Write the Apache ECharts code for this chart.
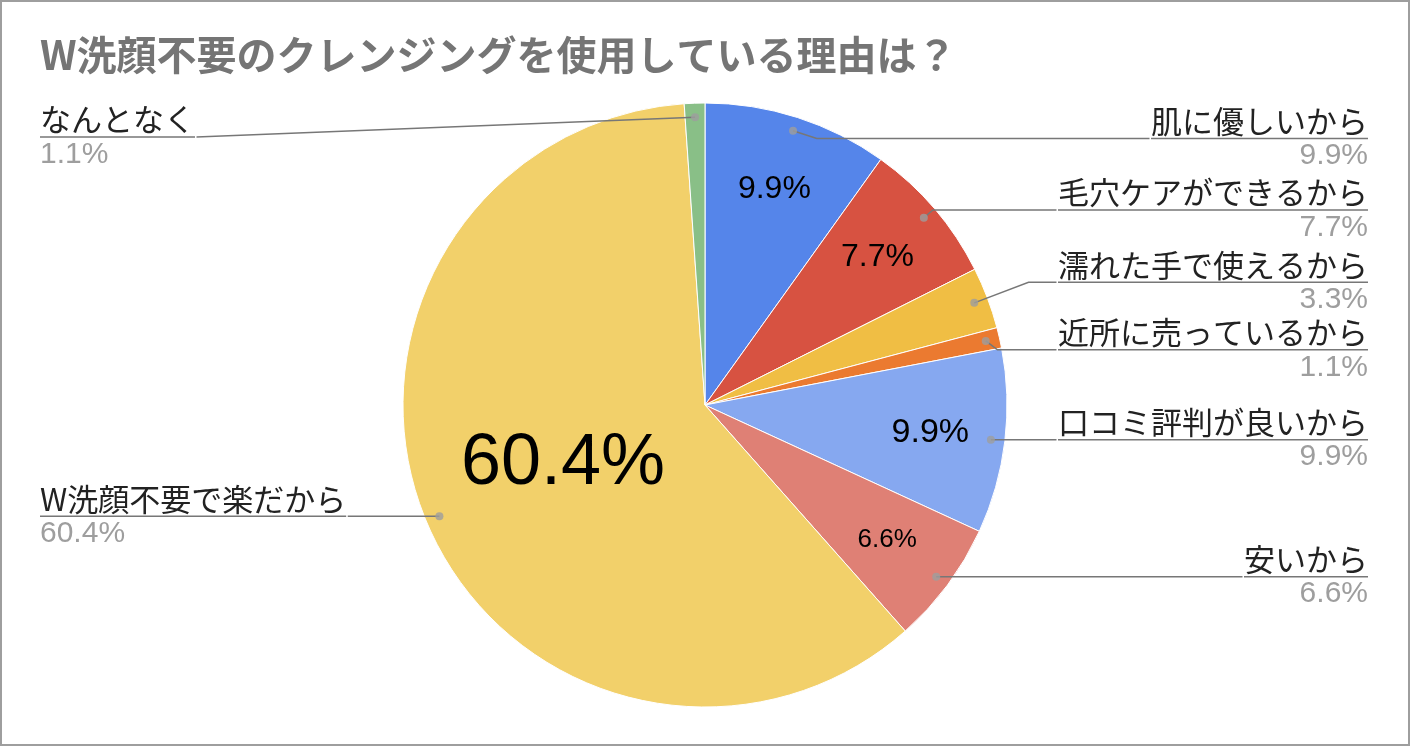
<!DOCTYPE html>
<html>
<head>
<meta charset="utf-8">
<script src="https://cdn.jsdelivr.net/npm/echarts@6/dist/echarts.min.js"></script>
<style>
  html, body { margin: 0; padding: 0; background: #fff; }
  #wrap { position: relative; width: 1410px; height: 746px; }
  #chart { width: 1410px; height: 746px; }
  #frame { position: absolute; left: 0; top: 0; width: 1410px; height: 746px; box-sizing: border-box; border: 2px solid #9e9e9e; pointer-events: none; }
</style>
</head>
<body>
<div id="wrap"><div id="chart"></div><div id="frame"></div></div>
<script>
// ---- data ----
const titleText = 'W洗顔不要のクレンジングを使用している理由は？';
const categories = ['肌に優しいから', '毛穴ケアができるから', '濡れた手で使えるから', '近所に売っているから', '口コミ評判が良いから', '安いから', 'W洗顔不要で楽だから', 'なんとなく'];
const counts = [9, 7, 3, 1, 9, 6, 55, 1];

// ---- styles ----
const sliceColors = ['#5585EA', '#D75241', '#F0BE44', '#EB7A30', '#86A8F0', '#DF8075', '#F2D06A', '#89BF87'];
const innerLabelSize = [32, 32, 0, 0, 34, 26, 72, 0];
const leaderLength = [-8, 12, 58, 12, 0, 0, 0, 12];
const CX = 705, CY = 405, R = 302, RDOT = 288, LABEL_TOP = 103;
const jp = '"Noto Sans CJK JP", sans-serif';
const lat = '"Liberation Sans", Arial, sans-serif';

const total = counts.reduce((a, b) => a + b, 0);
const pct = v => (v / total * 100).toFixed(1) + '%';

const pieData = categories.map((c, i) => ({ name: c, value: counts[i], itemStyle: { color: sliceColors[i] } }));

// mid angles for dots, in value units on the angle axis
let acc = 0;
const dotData = counts.map(v => { const m = acc + v / 2; acc += v; return [RDOT / R, m]; });

const option = {
  backgroundColor: '#fff',
  animation: false,
  title: {
    text: titleText, left: 35, top: 30,
    textStyle: { fontFamily: jp, fontSize: 40, fontWeight: 'bold', color: '#757575' }
  },
  polar: { center: [CX, CY], radius: R },
  angleAxis: { type: 'value', min: 0, max: total, startAngle: 90, clockwise: true, show: false },
  radiusAxis: { type: 'value', min: 0, max: 1, show: false },
  series: [
    {
      type: 'pie', center: [CX, CY], radius: R, startAngle: 90, clockwise: true,
      silent: true, z: 2,
      itemStyle: { borderColor: '#fff', borderWidth: 1 },
      data: pieData.map((d, i) => ({
        name: d.name, value: d.value, itemStyle: d.itemStyle,
        label: { show: i === 6, position: 'inside', fontSize: innerLabelSize[i], color: '#000', fontFamily: lat, formatter: p => pct(p.value) }
      })),
      labelLine: { show: false }
    },
    {
      type: 'pie', center: [CX, CY], radius: [146, R], startAngle: 90, clockwise: true,
      silent: true, z: 3,
      itemStyle: { color: 'rgba(0,0,0,0)' },
      data: pieData.map((d, i) => ({
        name: d.name, value: d.value,
        label: { show: innerLabelSize[i] > 0 && i !== 6, position: 'inside', fontSize: innerLabelSize[i] || 12, color: '#000', fontFamily: lat, formatter: p => pct(p.value) }
      })),
      labelLine: { show: false }
    },
    {
      type: 'pie', center: [CX, CY - LABEL_TOP], radius: RDOT, startAngle: 90, clockwise: true,
      silent: true, z: 5, top: LABEL_TOP, bottom: 0, left: 0, right: 2,
      itemStyle: { color: 'rgba(0,0,0,0)' },
      data: pieData.map((d, i) => ({ name: d.name, value: d.value, labelLine: { length: leaderLength[i] } })),
      label: {
        show: true, position: 'outside', alignTo: 'edge', edgeDistance: 40,
        distanceToLabelLine: 0,
        formatter: p => '{n|' + p.name + '}\n{hr|}\n{p|' + pct(p.value) + '}',
        rich: {
          n: { fontFamily: jp, fontSize: 31, color: '#222', lineHeight: 35 },
          hr: { borderColor: '#777', borderWidth: 1.5, width: '100%', height: 0, lineHeight: 0 },
          p: { fontFamily: lat, fontSize: 30, color: '#9e9e9e', lineHeight: 35 }
        }
      },
      labelLine: { show: true, length2: 10, smooth: false, lineStyle: { color: '#777', width: 1.5 } }
    },
    {
      type: 'scatter', coordinateSystem: 'polar', silent: true, z: 10,
      symbol: 'circle', symbolSize: 8,
      itemStyle: { color: '#9e9e9e' },
      data: dotData
    }
  ]
};

const chart = echarts.init(document.getElementById('chart'), null, { renderer: 'canvas' });
chart.setOption(option);
</script>
</body>
</html>
